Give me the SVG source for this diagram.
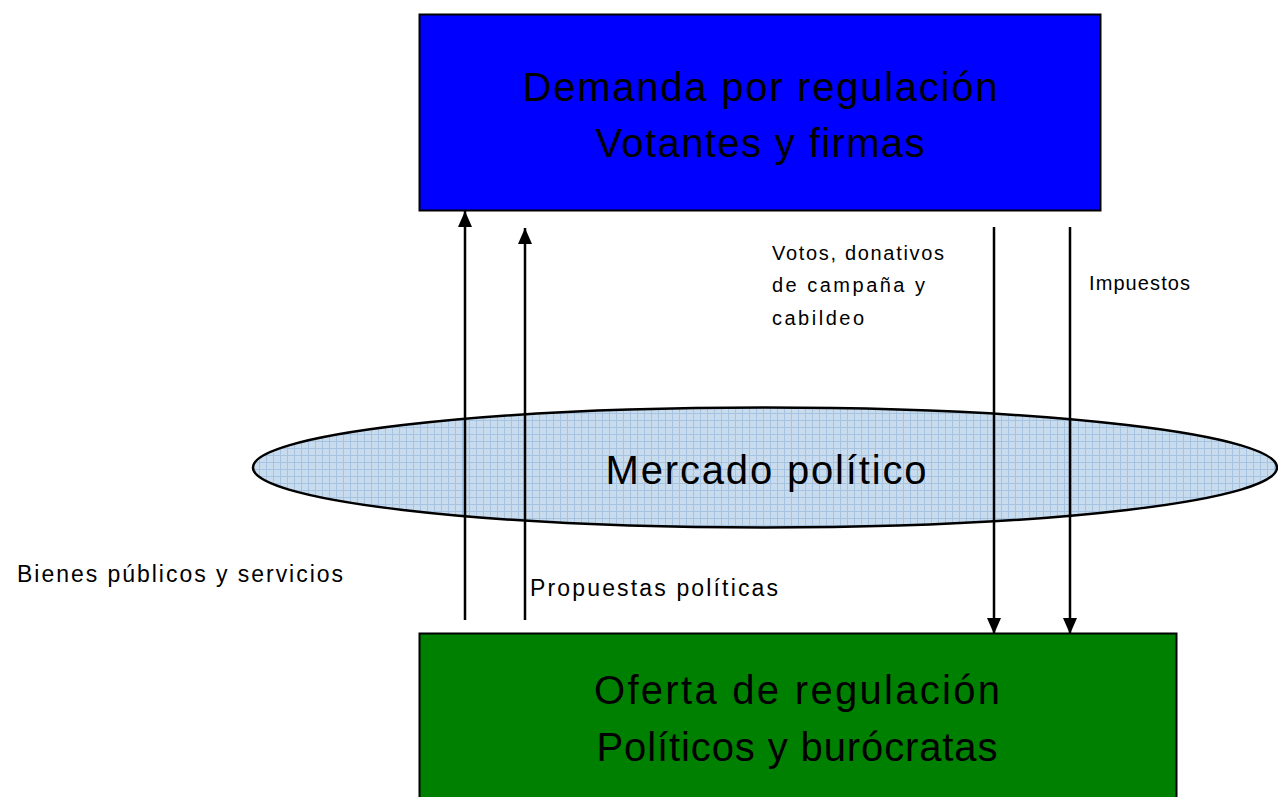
<svg xmlns="http://www.w3.org/2000/svg" width="1278" height="797" viewBox="0 0 1278 797">
<style>
.big{font-family:"Liberation Sans",Arial,sans-serif;font-size:40px;fill:#000;text-anchor:middle}
.sm{font-family:"Liberation Sans",Arial,sans-serif;font-size:20px;fill:#000}
.md{font-family:"Liberation Sans",Arial,sans-serif;font-size:23px;fill:#000}
.ln{stroke:#000;stroke-width:2.5;fill:none}
</style>
<defs>
<pattern id="grid" width="7" height="7" patternUnits="userSpaceOnUse">
<rect width="7" height="7" fill="#c9dcee"/>
<path d="M0 0.5H7M0.5 0V7" stroke="#a6c3e2" stroke-width="1"/>
</pattern>
<marker id="arr" viewBox="0 0 16 14" refX="16" refY="7" markerWidth="16" markerHeight="14" orient="auto" markerUnits="userSpaceOnUse">
<path d="M0 0L16 7L0 14z" fill="#000"/>
</marker>
</defs>
<rect width="1278" height="797" fill="#fff"/>
<g id="demanda">
<rect x="419.5" y="14.5" width="681" height="196" fill="#0000ff" stroke="#000" stroke-width="2"/>
<text class="big" x="760" y="101" textLength="475" lengthAdjust="spacing">Demanda por regulación</text>
<text class="big" x="760" y="157" textLength="329" lengthAdjust="spacing">Votantes y firmas</text>
</g>
<g id="oferta">
<rect x="419.5" y="633.5" width="757" height="170" fill="#008000" stroke="#000" stroke-width="2"/>
<text class="big" x="797" y="704" textLength="406" lengthAdjust="spacing">Oferta de regulación</text>
<text class="big" x="797" y="761" textLength="401" lengthAdjust="spacing">Políticos y burócratas</text>
</g>
<g id="mercado">
<ellipse cx="765" cy="467.5" rx="512" ry="60" fill="url(#grid)" stroke="#000" stroke-width="2.5"/>
<text class="big" x="766" y="484" textLength="321" lengthAdjust="spacing">Mercado político</text>
</g>
<g id="connectors">
<line class="ln" x1="465" y1="620" x2="465" y2="211" marker-end="url(#arr)"/>
<line class="ln" x1="525" y1="620" x2="525" y2="228" marker-end="url(#arr)"/>
<line class="ln" x1="994" y1="227" x2="994" y2="634" marker-end="url(#arr)"/>
<line class="ln" x1="1070" y1="227" x2="1070" y2="634" marker-end="url(#arr)"/>
</g>
<g id="labels">
<text class="sm" x="772" y="260" textLength="172" lengthAdjust="spacing">Votos, donativos</text>
<text class="sm" x="772" y="292" textLength="153" lengthAdjust="spacing">de campaña y</text>
<text class="sm" x="772" y="325" textLength="92" lengthAdjust="spacing">cabildeo</text>
<text class="sm" x="1089" y="290" textLength="101" lengthAdjust="spacing">Impuestos</text>
<text class="md" x="17" y="582" textLength="326" lengthAdjust="spacing">Bienes públicos y servicios</text>
<text class="md" x="530" y="596" textLength="248" lengthAdjust="spacing">Propuestas políticas</text>
</g>
</svg>
